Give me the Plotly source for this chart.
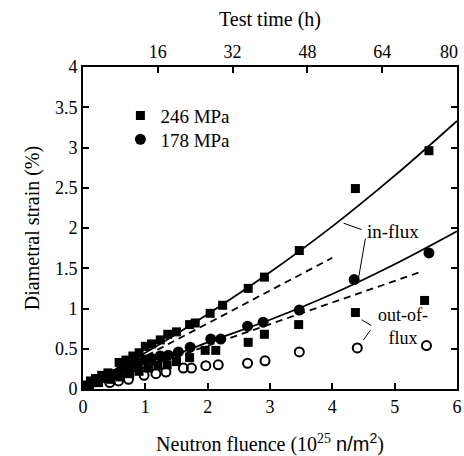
import plotly.graph_objects as go

# In-flux, 246 MPa (filled squares)
f_in246 = [0.05, 0.12, 0.2, 0.3, 0.4, 0.58, 0.69, 0.8, 0.9, 1.0, 1.1, 1.24, 1.36, 1.5,
           1.71, 1.8, 2.04, 2.24, 2.65, 2.91, 3.47, 4.37, 5.55]
s_in246 = [0.05, 0.1, 0.13, 0.17, 0.2, 0.33, 0.36, 0.41, 0.45, 0.53, 0.56, 0.61, 0.68, 0.71,
           0.8, 0.82, 0.94, 1.04, 1.25, 1.39, 1.72, 2.49, 2.96]
# In-flux, 178 MPa (filled circles)
f_in178 = [0.1, 0.2, 0.35, 0.5, 0.58, 0.67, 0.78, 0.89, 1.0, 1.1, 1.24, 1.37, 1.53, 1.72,
           2.05, 2.21, 2.64, 2.89, 3.47, 4.35, 5.55]
s_in178 = [0.05, 0.09, 0.14, 0.18, 0.21, 0.26, 0.3, 0.33, 0.36, 0.38, 0.41, 0.42, 0.46, 0.52,
           0.62, 0.62, 0.78, 0.83, 0.98, 1.36, 1.69]
# Out-of-flux, 246 MPa (filled squares)
f_out246 = [0.1, 0.25, 0.45, 0.6, 0.75, 0.9, 1.05, 1.2, 1.35, 1.5, 1.71, 1.96, 2.13, 2.65,
            2.91, 3.46, 4.37, 5.48]
s_out246 = [0.04, 0.08, 0.12, 0.15, 0.19, 0.22, 0.26, 0.29, 0.3, 0.34, 0.39, 0.48, 0.48, 0.58,
            0.68, 0.80, 0.95, 1.10]
# Out-of-flux, 178 MPa (open circles)
f_out178 = [0.43, 0.57, 0.73, 0.98, 1.17, 1.33, 1.61, 1.74, 1.97, 2.17, 2.64, 2.92, 3.47, 4.40, 5.51]
s_out178 = [0.08, 0.10, 0.12, 0.17, 0.19, 0.21, 0.26, 0.26, 0.29, 0.30, 0.32, 0.35, 0.46, 0.51, 0.54]

# Fit curves
fit_f = [0, 1, 2, 3, 4, 5, 6]
fit_246 = [0, 0.45, 0.93, 1.45, 2.02, 2.65, 3.33]
fit_178 = [0, 0.28, 0.58, 0.86, 1.18, 1.55, 1.96]
dash_246_f = [0, 4.0]
dash_246_s = [0, 1.63]
dash_178_f = [0, 5.4]
dash_178_s = [0, 1.45]

# Axes
x_ticks = [0, 1, 2, 3, 4, 5, 6]
y_ticks = [0, 0.5, 1, 1.5, 2, 2.5, 3, 3.5, 4]
y_labels = ["0", "0.5", "1", "1.5", "2", "2.5", "3", "3.5", "4"]
time_ticks = [16, 32, 48, 64]
time_end_tick = [80]
time_range = [0, 80]

SERIF = "Liberation Serif, Times New Roman, serif"
BLACK = "black"

fig = go.Figure()

fig.add_trace(go.Scatter(x=fit_f, y=fit_246, mode="lines", line=dict(color=BLACK, width=1.8, shape="spline"),
                         showlegend=False, hoverinfo="skip"))
fig.add_trace(go.Scatter(x=fit_f, y=fit_178, mode="lines", line=dict(color=BLACK, width=1.8, shape="spline"),
                         showlegend=False, hoverinfo="skip"))
fig.add_trace(go.Scatter(x=dash_246_f, y=dash_246_s, mode="lines", line=dict(color=BLACK, width=1.8, dash="7px,5px"),
                         showlegend=False, hoverinfo="skip"))
fig.add_trace(go.Scatter(x=dash_178_f, y=dash_178_s, mode="lines", line=dict(color=BLACK, width=1.8, dash="7px,5px"),
                         showlegend=False, hoverinfo="skip"))

fig.add_trace(go.Scatter(x=f_out246, y=s_out246, mode="markers",
                         marker=dict(symbol="square", size=9, color=BLACK), showlegend=False))
fig.add_trace(go.Scatter(x=f_out178, y=s_out178, mode="markers",
                         marker=dict(symbol="circle-open", size=9, color=BLACK, line=dict(width=2)),
                         showlegend=False))
fig.add_trace(go.Scatter(x=f_in246, y=s_in246, mode="markers", name="246 MPa", legend="legend",
                         marker=dict(symbol="square", size=9, color=BLACK)))
fig.add_trace(go.Scatter(x=f_in178, y=s_in178, mode="markers", name="178 MPa", legend="legend2",
                         marker=dict(symbol="circle", size=11, color=BLACK)))

# invisible traces to carry the top time axes
for xa in ("x2", "x3"):
    fig.add_trace(go.Scatter(x=time_range, y=[0, 0], xaxis=xa, mode="markers",
                             marker=dict(opacity=0), showlegend=False, hoverinfo="skip"))

# Annotations: labels and leader lines
ann_font = dict(family=SERIF, size=19, color=BLACK)
fig.add_annotation(x=4.98, y=1.96, text="in-flux", showarrow=False, font=ann_font)
fig.add_annotation(x=5.13, y=0.775, text="out-of-<br>flux", showarrow=False, align="center",
                   font=dict(family=SERIF, size=18, color=BLACK))
leaders = [
    (4.18, 2.06, 4.47, 1.98),
    (4.53, 1.87, 4.42, 1.375),
    (4.47, 0.86, 4.62, 0.79),
    (4.50, 0.61, 4.61, 0.73),
]
for x0, y0, x1, y1 in leaders:
    fig.add_shape(type="line", x0=x0, y0=y0, x1=x1, y1=y1, xref="x", yref="y",
                  line=dict(color=BLACK, width=1))

axis_common = dict(showline=True, linecolor=BLACK, linewidth=2, ticks="inside", ticklen=6,
                   tickwidth=2, tickcolor=BLACK, showgrid=False, zeroline=False, automargin=False,
                   ticklabeloverflow="allow",
                   tickfont=dict(family=SERIF, size=18, color=BLACK))

legend_common = dict(xanchor="left", yanchor="top", bgcolor="rgba(0,0,0,0)",
                     font=dict(family=SERIF, size=19, color=BLACK), itemwidth=30)

fig.update_layout(
    width=464, height=456,
    margin=dict(l=83, r=7, t=67, b=67, autoexpand=False),
    paper_bgcolor="white", plot_bgcolor="white",
    font=dict(family=SERIF, color=BLACK),
    xaxis=dict(range=[0, 6], tickvals=x_ticks, ticktext=[str(v) for v in x_ticks],
               title=dict(text="Neutron fluence (10<sup>25</sup> <span style='font-family:Liberation Sans'>n/m<sup>2</sup></span>)",
                          font=dict(family=SERIF, size=20, color=BLACK), standoff=24),
               **axis_common),
    xaxis2=dict(range=time_range, overlaying="x", side="top", tickvals=time_ticks,
                ticktext=[str(v) for v in time_ticks],
                title=dict(text="Test time (h)", font=dict(family=SERIF, size=20, color=BLACK), standoff=10),
                **axis_common),
    xaxis3=dict(range=time_range, overlaying="x", side="top", tickvals=time_end_tick,
                ticktext=[str(v) for v in time_end_tick], ticklabelshift=-8,
                **axis_common),
    yaxis=dict(range=[0, 4], tickvals=y_ticks, ticktext=y_labels, mirror="ticks",
               title=dict(text="Diametral strain (%)", font=dict(family=SERIF, size=20, color=BLACK), standoff=10),
               **axis_common),
    legend=dict(x=0.1, y=0.908, **legend_common),
    legend2=dict(x=0.1, y=0.834, **legend_common),
)

fig.write_html("out.html")
